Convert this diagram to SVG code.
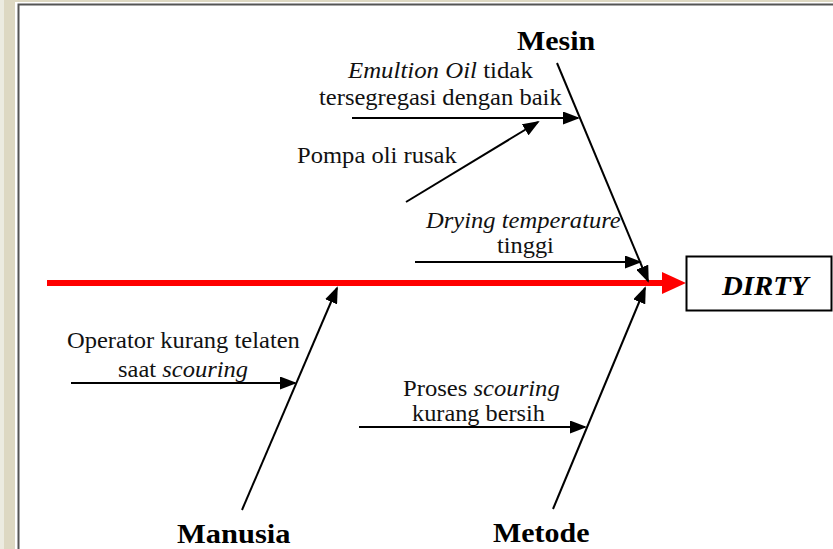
<svg xmlns="http://www.w3.org/2000/svg" width="833" height="549" viewBox="0 0 833 549">
  <style>
    text { font-family: "Liberation Serif", "Times New Roman", "DejaVu Serif", serif; }
    .t { font-size: 23px; fill: #111; }
    .h { font-size: 28px; font-weight: bold; fill: #000; }
    .i { font-style: italic; }
    .bone { stroke: #000; stroke-width: 2; fill: none; marker-end: url(#tip); }
  </style>
  <defs>
    <marker id="tip" markerUnits="userSpaceOnUse" markerWidth="17" markerHeight="13" refX="15" refY="6.5" orient="auto">
      <path d="M0,0 L17,6.5 L0,13 z" fill="#000"/>
    </marker>
  </defs>

  <!-- window chrome -->
  <rect x="0" y="0" width="833" height="549" fill="#ddd8c2"/>
  <rect x="0" y="0" width="4" height="549" fill="#ecebe0"/>
  <rect x="15" y="2" width="818" height="547" fill="#ffffff"/>
  <path d="M18.5,549 V4.5 H833" stroke="#555" stroke-width="2" fill="none"/>

  <!-- connectors -->
  <g id="connectors">
    <line x1="47" y1="283" x2="665" y2="283" stroke="#ff0000" stroke-width="6"/>
    <polygon points="662,272 686,283 662,294" fill="#ff0000"/>
    <line class="bone" x1="557" y1="63" x2="648" y2="281"/>
    <line class="bone" x1="352" y1="118" x2="578" y2="118"/>
    <line class="bone" x1="406" y1="202" x2="538" y2="122"/>
    <line class="bone" x1="415" y1="262" x2="640" y2="262"/>
    <line class="bone" x1="242" y1="510" x2="337" y2="288"/>
    <line class="bone" x1="71" y1="383" x2="295" y2="383"/>
    <line class="bone" x1="553" y1="509" x2="645" y2="288"/>
    <line class="bone" x1="359" y1="427" x2="585" y2="427"/>
  </g>

  <!-- effect -->
  <g id="effect">
    <rect x="686.5" y="256.5" width="145" height="54" fill="#fff" stroke="#000" stroke-width="2"/>
    <text class="h i" transform="translate(722,295) scale(1.03,1)">DIRTY</text>
  </g>

  <!-- categories -->
  <g id="mesin">
    <text class="h" transform="translate(517,50) scale(1.07,1)">Mesin</text>
  </g>
  <g id="manusia">
    <text class="h" transform="translate(177,543) scale(1.09,1)">Manusia</text>
  </g>
  <g id="metode">
    <text class="h" transform="translate(493,542) scale(1.07,1)">Metode</text>
  </g>

  <!-- causes -->
  <g id="cause-emultion">
    <text class="t" transform="translate(348,78) scale(1.08,1)"><tspan class="i">Emultion Oil</tspan> tidak</text>
    <text class="t" transform="translate(319,105) scale(1.068,1)">tersegregasi dengan baik</text>
  </g>
  <g id="cause-pompa">
    <text class="t" transform="translate(297,163) scale(1.07,1)">Pompa oli rusak</text>
  </g>
  <g id="cause-drying">
    <text class="t i" transform="translate(426,228) scale(1.068,1)">Drying temperature</text>
    <text class="t" transform="translate(497,253) scale(1.06,1)">tinggi</text>
  </g>
  <g id="cause-operator">
    <text class="t" transform="translate(67,348) scale(1.067,1)">Operator kurang telaten</text>
    <text class="t" transform="translate(118,377) scale(1.066,1)">saat <tspan class="i">scouring</tspan></text>
  </g>
  <g id="cause-proses">
    <text class="t" transform="translate(403,396) scale(1.072,1)">Proses <tspan class="i">scouring</tspan></text>
    <text class="t" transform="translate(412,421) scale(1.057,1)">kurang bersih</text>
  </g>
</svg>
